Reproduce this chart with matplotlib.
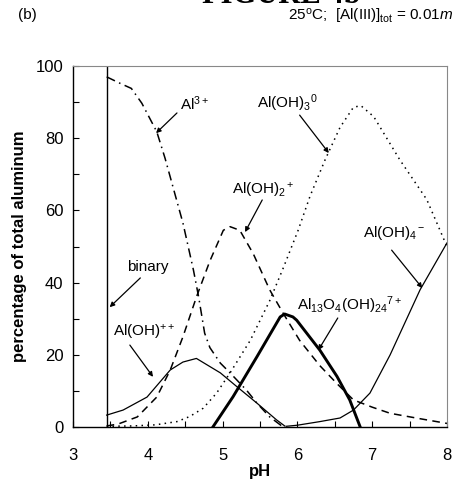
import numpy as np
import matplotlib
matplotlib.use('Agg')
import matplotlib.pyplot as plt
from matplotlib.ticker import MultipleLocator

plt.rcParams['font.family'] = ['Liberation Sans', 'DejaVu Sans']
plt.rcParams['mathtext.fontset'] = 'custom'
plt.rcParams['mathtext.rm'] = 'Liberation Sans'
plt.rcParams['mathtext.it'] = 'Liberation Sans:italic'
plt.rcParams['mathtext.bf'] = 'Liberation Sans:bold'

# species distribution (pH, % of total Al)
binary_pH = 3.45

al3_pH = [3.45, 3.63, 3.78, 3.92, 4.12, 4.23, 4.47, 4.54, 4.61, 4.68, 4.76, 4.83,
          4.97, 5.10, 5.32, 5.46, 5.63, 5.81]
al3 = [97, 95.2, 93.8, 89.7, 81.8, 74.5, 56.5, 50, 43.5, 36, 26, 22,
       17.7, 15, 10.2, 6.6, 2.8, 0]

aloh2_pH = [3.45, 3.6, 3.86, 4.12, 4.30, 4.47, 4.65, 4.83, 5.01, 5.10, 5.23, 5.41,
            5.63, 5.81, 6.03, 6.3, 6.53, 6.75, 7.0, 7.24, 7.64, 8.0]
aloh2 = [0.3, 0.8, 2.8, 8.3, 15.8, 25, 36, 46, 54.5, 55.5, 54.5, 48,
         38, 31.5, 24, 17, 12, 7.5, 5.5, 3.8, 2.3, 1]

aloh_pH = [3.45, 3.67, 3.99, 4.30, 4.47, 4.65, 4.97, 5.19, 5.46, 5.72, 5.83]
aloh = [3.3, 4.7, 8.3, 15.8, 18, 19, 15, 11.2, 6.6, 2, 0.3]

aloh4_pH = [5.85, 6.0, 6.3, 6.57, 6.75, 6.97, 7.24, 7.64, 8.0]
aloh4 = [0.2, 0.5, 1.5, 2.5, 4.7, 9.4, 20, 38, 51]

aloh3_pH = [3.45, 3.8, 4.1, 4.39, 4.56, 4.74, 4.92, 5.10, 5.37, 5.63, 5.81, 6.01,
            6.17, 6.37, 6.57, 6.75, 6.85, 7.02, 7.37, 7.73, 8.0]
aloh3 = [0.2, 0.3, 0.6, 1.5, 2.9, 5.2, 9.4, 15, 24, 35, 44, 54.5,
         64, 74, 83, 88.6, 89, 86, 74, 63, 50]

al13_pH = [4.87, 5.14, 5.46, 5.77, 5.83, 5.94, 5.99, 6.30, 6.53, 6.70, 6.84]
al13 = [0, 8.4, 19.5, 30.5, 31.3, 30.5, 29.6, 21.3, 14, 7.5, 0]

fig = plt.figure(figsize=(4.6, 4.83), dpi=100)
ax = fig.add_axes([0.1587, 0.1159, 0.813, 0.7474])

ax.axvline(binary_pH, color='black', lw=1.0)
ax.plot(al3_pH, al3, color='black', lw=1.1, ls=(0, (6, 3, 1, 3)))
ax.plot(aloh2_pH, aloh2, color='black', lw=1.1, ls=(0, (5, 3.5)))
ax.plot(aloh_pH, aloh, color='black', lw=0.9)
ax.plot(aloh4_pH, aloh4, color='black', lw=0.9)
ax.plot(aloh3_pH, aloh3, color='black', lw=1.1, ls=(0, (1, 2.8)))
ax.plot(al13_pH, al13, color='black', lw=2.1, solid_joinstyle='round')

ax.set_xlim(3, 8)
ax.set_ylim(0, 100)
ax.xaxis.set_major_locator(MultipleLocator(1))
ax.xaxis.set_minor_locator(MultipleLocator(0.5))
ax.yaxis.set_major_locator(MultipleLocator(20))
ax.yaxis.set_minor_locator(MultipleLocator(10))
ax.tick_params(which='both', direction='in', length=4, width=0.8, labelsize=12,
               top=False, right=False)
ax.tick_params(axis='x', pad=15)
ax.tick_params(axis='y', pad=7)
for s in ['top', 'right']:
    ax.spines[s].set_color('#888888')
for s in ['left', 'bottom']:
    ax.spines[s].set_linewidth(1.0)

ax.set_xlabel('pH', fontsize=12, fontweight='bold', labelpad=1)
ax.set_ylabel('percentage of total aluminum', fontsize=12, fontweight='bold', labelpad=6)

# labels with arrows
arrow = dict(arrowstyle='-|>', color='black', lw=0.9, mutation_scale=7, shrinkA=0, shrinkB=0)
labels = [
    (r'Al$^{3+}$', (4.43, 89.7), (4.39, 87.0), (4.11, 81.4)),
    (r'Al(OH)$_3$$^0$', (5.46, 89.7), (6.03, 86.4), (6.42, 75.9)),
    (r'Al(OH)$_2$$^+$', (5.13, 65.6), (5.53, 62.9), (5.30, 54.0)),
    (r'Al(OH)$_4$$^-$', (6.88, 53.7), (7.26, 49.0), (7.67, 38.5)),
    (r'Al$_{13}$O$_4$(OH)$_{24}$$^{7+}$', (5.99, 33.8), (6.54, 30.2), (6.28, 21.3)),
    ('binary', (3.72, 44.3), (3.90, 41.3), (3.49, 33.2)),
    (r'Al(OH)$^{++}$', (3.53, 26.3), (3.76, 22.7), (4.07, 13.9)),
]
for txt, pos, tail, head in labels:
    ax.text(pos[0], pos[1], txt, fontsize=11, ha='left', va='center')
    ax.annotate('', xy=head, xytext=tail, arrowprops=arrow)

fig.text(0.039, 0.969, '(b)', fontsize=11, ha='left', va='center')
fig.text(0.985, 0.965, r'25$^{\rm o}$C;  [Al(III)]$_{\rm tot}$ = 0.01$m$', fontsize=11,
         ha='right', va='center')
fig.text(0.611, 0.994, 'FIGURE 4b', fontsize=22, fontweight='bold',
         family='Liberation Serif', ha='center', va='baseline')

plt.savefig('out.png', dpi=100)
plt.close()
